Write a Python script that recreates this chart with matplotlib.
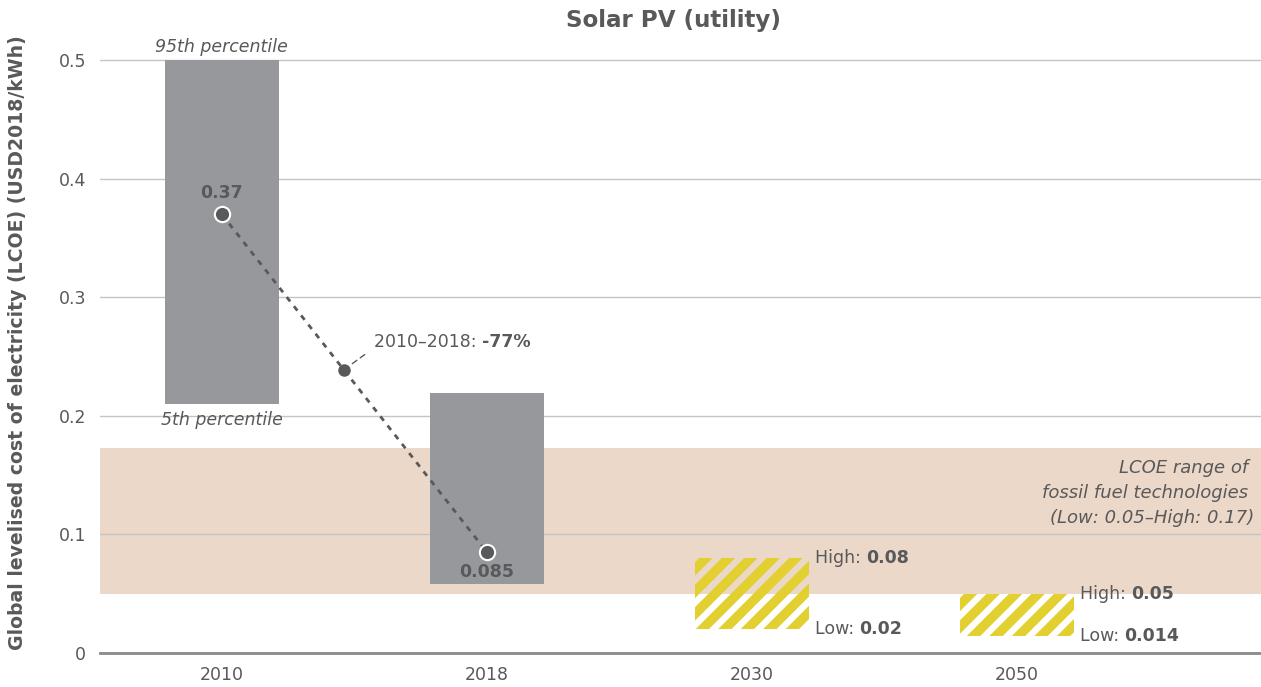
import numpy as np
import matplotlib
matplotlib.use('Agg')
import matplotlib.pyplot as plt
from matplotlib.collections import LineCollection

# chart values
years = ['2010', '2018', '2030', '2050']
bar_low = [0.21, 0.058]          # 5th percentile (2010, 2018)
bar_high = [0.50, 0.219]         # 95th percentile
lcoe_avg = [0.37, 0.085]         # weighted average
proj_low = [0.02, 0.014]         # projections 2030, 2050
proj_high = [0.08, 0.05]
fossil_low = 0.05
fossil_high = 0.173
change_label = '-77%'
change_pos = 0.46                # position of the marker along the 2010-2018 line

TXT = '#58595b'
BAR = '#97989c'
BAND = '#ecd8c8'
YEL = '#e2cf30'

plt.rcParams['font.family'] = ['DejaVu Sans']

fig = plt.figure(figsize=(12.61, 6.87), dpi=100)
ax = fig.add_axes([100 / 1261, 1 - 653 / 687, 1161 / 1261, 595 / 687])

x = np.arange(len(years))
w = 0.43
FS = 12.5

ax.set_xlim(-0.46, 3.92)
ax.set_ylim(0, 0.502)

# fossil fuel band
ax.axhspan(fossil_low, fossil_high, color=BAND, zorder=0.2, lw=0)

# historic ranges
ax.bar(x[:2], np.array(bar_high) - np.array(bar_low), bottom=bar_low, width=w,
       color=BAR, zorder=2)

# projections: striped boxes (diagonal stripes clipped to each box)
boxes = ax.bar(x[2:], np.array(proj_high) - np.array(proj_low), bottom=proj_low,
               width=w, facecolor='none', lw=0, zorder=2)
px_x = ax.transData.transform((1, 0))[0] - ax.transData.transform((0, 0))[0]
px_y = ax.transData.transform((0, 1))[1] - ax.transData.transform((0, 0))[1]
period = 22.5 / px_x   # stripe spacing in data units along x
pad = 0.01
for rect, xi, lo, hi in zip(boxes, x[2:], proj_low, proj_high):
    run = (hi - lo + 2 * pad) * px_y / px_x
    starts = np.arange(xi - w / 2 - run, xi + w / 2 + period, period)
    segs = [[(s, lo - pad), (s + run, hi + pad)] for s in starts]
    lc = LineCollection(segs, colors=YEL, linewidths=6.8, capstyle='butt', zorder=2)
    ax.add_collection(lc)
    lc.set_clip_path(rect)

# average line
ax.plot(x[:2], lcoe_avg, ls=(0, (2, 2.2)), color=TXT, lw=2, zorder=3)
ax.plot(x[:2], lcoe_avg, 'o', ms=11, mfc=TXT, mec='white', mew=1.5, zorder=4)

mid_y = np.interp(change_pos, x[:2], lcoe_avg)
ax.plot(change_pos, mid_y, 'o', ms=8, color=TXT, zorder=4)
ax.annotate('', xy=(change_pos, mid_y), xytext=(15, 11),
            textcoords='offset points',
            arrowprops=dict(arrowstyle='-', color=TXT, lw=1, ls=(0, (4, 3)),
                            shrinkA=0, shrinkB=5))
t = ax.annotate('2010\u20132018: ', xy=(change_pos, mid_y), xytext=(22, 20),
                textcoords='offset points', fontsize=FS, color=TXT,
                ha='left', va='center')
ax.annotate(change_label, xy=(1, 0), xycoords=t, va='bottom', ha='left',
            fontsize=FS, color=TXT, fontweight='bold')

# value labels
ax.annotate(f'{lcoe_avg[0]:g}', xy=(x[0], lcoe_avg[0]), xytext=(0, 9),
            textcoords='offset points', ha='center', va='bottom',
            fontsize=FS, fontweight='bold', color=TXT)
ax.annotate(f'{lcoe_avg[1]:g}', xy=(x[1], lcoe_avg[1]), xytext=(0, -8),
            textcoords='offset points', ha='center', va='top',
            fontsize=FS, fontweight='bold', color=TXT)

ax.annotate('95th percentile', xy=(x[0], bar_high[0]), xytext=(0, 3),
            textcoords='offset points', ha='center', va='bottom',
            fontsize=FS, style='italic', color=TXT)
ax.annotate('5th percentile', xy=(x[0], bar_low[0]), xytext=(0, -5),
            textcoords='offset points', ha='center', va='top',
            fontsize=FS, style='italic', color=TXT)

for xi, lo, hi in zip(x[2:], proj_low, proj_high):
    for lab, v in (('High: ', hi), ('Low: ', lo)):
        tt = ax.annotate(lab, xy=(xi + w / 2, v), xytext=(4, 0),
                         textcoords='offset points', ha='left', va='center',
                         fontsize=FS, color=TXT)
        ax.annotate(f'{v:g}', xy=(1, 0), xycoords=tt, ha='left', va='bottom',
                    fontsize=FS, color=TXT, fontweight='bold')

ax.text(0.994, (653 - 493) / 595,
        'LCOE range of \nfossil fuel technologies \n(Low: 0.05\u2013High: 0.17)',
        transform=ax.transAxes, ha='right', va='center',
        multialignment='right', fontsize=13, style='italic', color=TXT,
        linespacing=1.5)

# axes styling
ax.set_xticks(x)
ax.set_xticklabels(years)
ax.set_yticks([0, 0.1, 0.2, 0.3, 0.4, 0.5])
ax.set_yticklabels(['0', '0.1', '0.2', '0.3', '0.4', '0.5'])
ax.tick_params(length=0, labelsize=FS, labelcolor=TXT)
ax.tick_params(axis='y', pad=10)
ax.tick_params(axis='x', pad=9)
ax.set_axisbelow(True)
ax.yaxis.grid(True, color='#c4c4c4', lw=1)
for s in ('left', 'right', 'top'):
    ax.spines[s].set_visible(False)
ax.spines['bottom'].set_color('#8a8a8a')
ax.spines['bottom'].set_linewidth(2)
ax.spines['bottom'].set_zorder(5)

ax.set_ylabel('Global levelised cost of electricity (LCOE) (USD2018/kWh)',
              fontsize=13.6, fontweight='bold', color=TXT)
ax.yaxis.set_label_coords(-73 / 1161, (653 - 343) / 595)

fig.text(673 / 1261, 1 - 21 / 687, 'Solar PV (utility)', ha='center', va='center',
         fontsize=16.6, fontweight='bold', color=TXT)

fig.savefig('out.png', dpi=100)
